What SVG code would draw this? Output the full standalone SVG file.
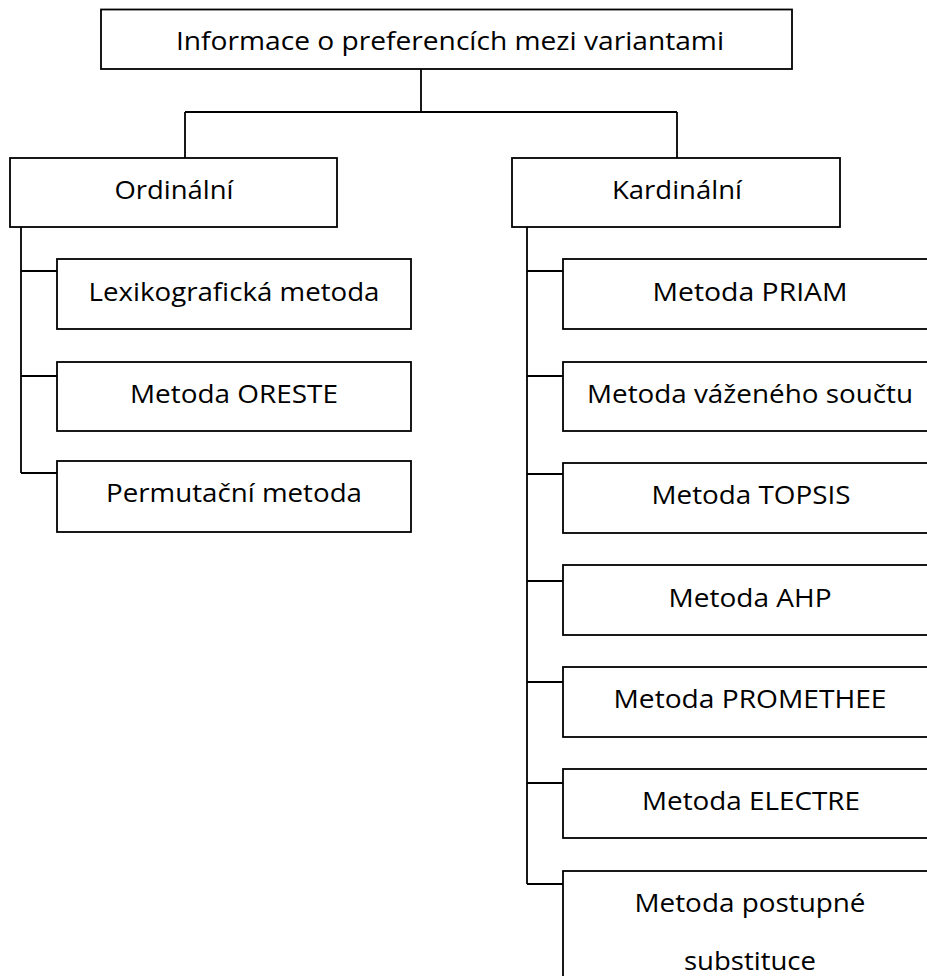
<svg xmlns="http://www.w3.org/2000/svg" width="927" height="976" viewBox="0 0 927 976">
<style>
.box{fill:#fff;stroke:#000;stroke-width:1.8}
.t{font-family:"Open Sans","Noto Sans",sans-serif;font-size:25.5px;fill:#000;text-anchor:middle}
.c{fill:none;stroke:#000;stroke-width:1.8}
</style>
<rect width="927" height="976" fill="#fff"/>
<g id="connectors" class="c">
<path d="M421 69V112M185 112H677M185 112V158M677 112V158"/>
<path d="M21 227V473M21 271H57M21 376H57M21 473H57"/>
<path d="M527 227V884M527 271H563M527 376H563M527 474H563M527 581H563M527 682H563M527 783H563M527 884H563"/>
</g>
<g id="root"><rect class="box" x="101" y="9.5" width="691" height="59.5"/><text class="t" x="450" y="50" textLength="548" lengthAdjust="spacingAndGlyphs">Informace o preferencích mezi variantami</text></g>
<g id="ordinalni"><rect class="box" x="10" y="158" width="327" height="69"/><text class="t" x="174" y="199" textLength="119" lengthAdjust="spacingAndGlyphs">Ordinální</text></g>
<g id="kardinalni"><rect class="box" x="512" y="158" width="328" height="69"/><text class="t" x="677" y="199" textLength="130" lengthAdjust="spacingAndGlyphs">Kardinální</text></g>
<g id="lexikograficka"><rect class="box" x="57" y="259" width="354" height="70"/><text class="t" x="234" y="301" textLength="291" lengthAdjust="spacingAndGlyphs">Lexikografická metoda</text></g>
<g id="oreste"><rect class="box" x="57" y="362" width="354" height="69"/><text class="t" x="234" y="403" textLength="208" lengthAdjust="spacingAndGlyphs">Metoda ORESTE</text></g>
<g id="permutacni"><rect class="box" x="57" y="461" width="354" height="71"/><text class="t" x="234" y="502" textLength="256" lengthAdjust="spacingAndGlyphs">Permutační metoda</text></g>
<g id="priam"><rect class="box" x="563" y="259" width="374" height="70"/><text class="t" x="750" y="301" textLength="195" lengthAdjust="spacingAndGlyphs">Metoda PRIAM</text></g>
<g id="vazeny"><rect class="box" x="563" y="362" width="374" height="69"/><text class="t" x="750" y="403" textLength="326" lengthAdjust="spacingAndGlyphs">Metoda váženého součtu</text></g>
<g id="topsis"><rect class="box" x="563" y="463" width="374" height="70"/><text class="t" x="751" y="504" textLength="199" lengthAdjust="spacingAndGlyphs">Metoda TOPSIS</text></g>
<g id="ahp"><rect class="box" x="563" y="565" width="374" height="70"/><text class="t" x="750" y="607" textLength="163" lengthAdjust="spacingAndGlyphs">Metoda AHP</text></g>
<g id="promethee"><rect class="box" x="563" y="667" width="374" height="70"/><text class="t" x="750" y="708" textLength="273" lengthAdjust="spacingAndGlyphs">Metoda PROMETHEE</text></g>
<g id="electre"><rect class="box" x="563" y="769" width="374" height="69"/><text class="t" x="751" y="810" textLength="218" lengthAdjust="spacingAndGlyphs">Metoda ELECTRE</text></g>
<g id="postupne"><rect class="box" x="563" y="871" width="374" height="130"/><text class="t" x="750" y="912" textLength="231" lengthAdjust="spacingAndGlyphs">Metoda postupné</text><text class="t" x="750" y="970" textLength="132" lengthAdjust="spacingAndGlyphs">substituce</text></g>
</svg>
